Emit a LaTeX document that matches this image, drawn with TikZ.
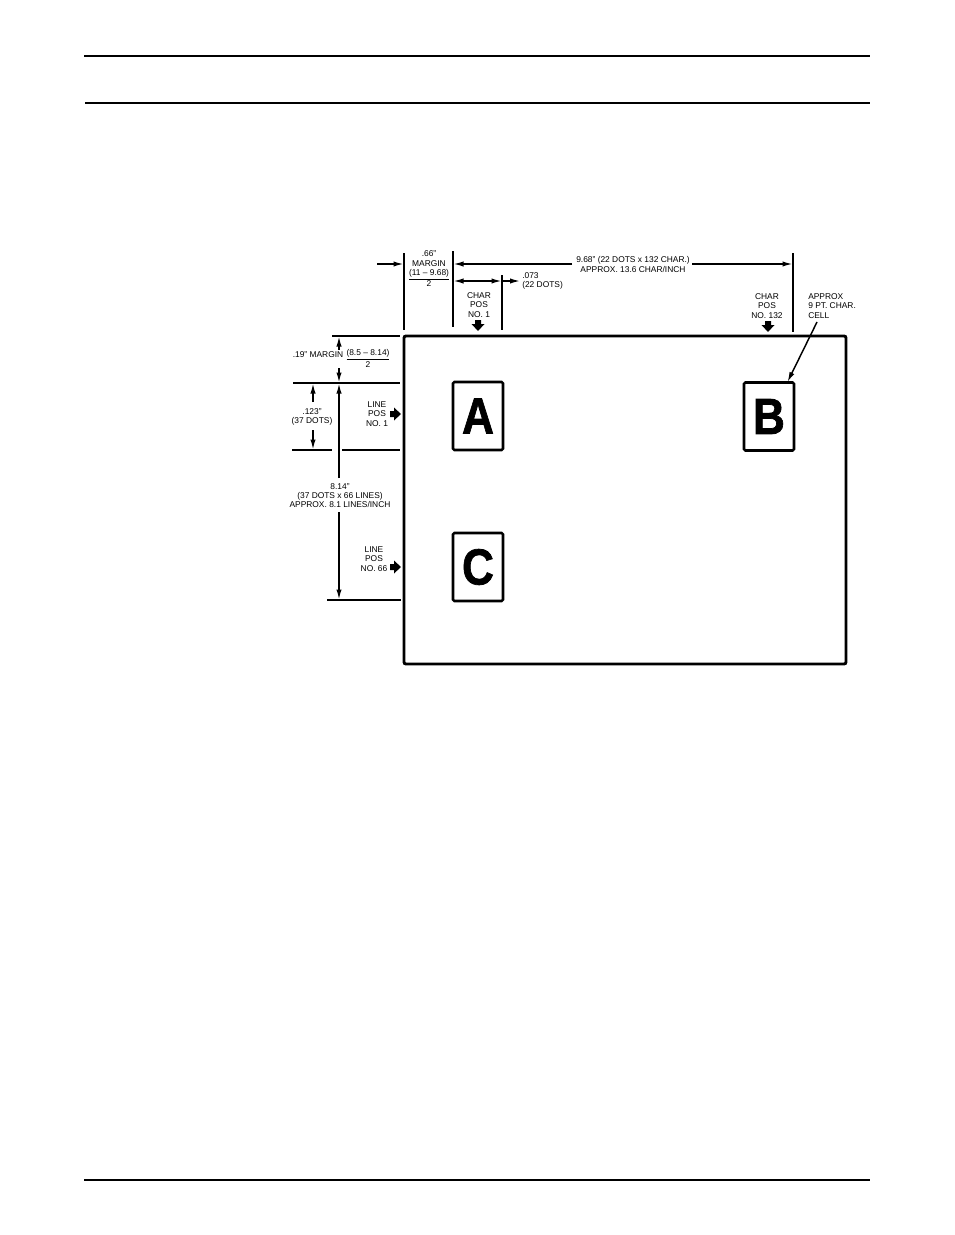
\documentclass[tikz,border=0pt]{standalone}
\usepackage{fontspec}
\setmainfont{Liberation Sans}
\newfontfamily\heavy[UprightFont={* Bold},FakeBold=1.5]{Liberation Sans}
\usetikzlibrary{arrows.meta}
\begin{document}
\begin{tikzpicture}[x=0.75pt,y=-0.75pt,
  rule/.style={line width=1.1pt},
  ext/.style={line width=1.5pt},
  dim/.style={line width=1.1pt,-{Latex[length=7.5pt,width=4pt]}},
  ddim/.style={line width=1.1pt,{Latex[length=7.5pt,width=4pt]}-{Latex[length=7.5pt,width=4pt]}},
  lbl/.style={font=\fontsize{6.3}{6.9}\selectfont,inner sep=0pt,align=center},
  lbll/.style={lbl,align=left,anchor=west},
  cell/.style={draw,line width=1.9pt,rounded corners=1pt,minimum width=50*0.75pt,minimum height=68*0.75pt,inner sep=0pt},
  big/.style={font=\fontsize{38}{38}\heavy\selectfont,xscale=0.87,inner sep=0pt},
  fat/.pic={\fill (-3,-6)--(3,-6)--(3,-2)--(6.5,-2)--(0,5)--(-6.5,-2)--(-3,-2)--cycle;}
]
\useasboundingbox (0,0) rectangle (954,1235);

% page rules
\coordinate (h1a) at (84,56);  \coordinate (h1b) at (870,56);
\coordinate (h2a) at (85,103); \coordinate (h2b) at (870,103);
\coordinate (f1a) at (84,1180); \coordinate (f1b) at (870,1180);
\draw[rule] (h1a) -- (h1b);
\draw[rule] (h2a) -- (h2b);
\draw[rule] (f1a) -- (f1b);

% page outline
\coordinate (pageTL) at (404,336);
\coordinate (pageBR) at (846,664);
\draw[line width=2.2pt,rounded corners=1.5pt] (pageTL) rectangle (pageBR);

% character cells
\node[cell] (cA) at (478,416) {};
\node[big] at (cA.center) {A};
\node[cell] (cB) at (769,416.5) {};
\node[big] at (cB.center) {B};
\node[cell] (cC) at (478,567) {};
\node[big] at (cC.center) {C};

% vertical extension lines (top)
\coordinate (v1t) at (404,253); \coordinate (v1b) at (404,330);
\coordinate (v2t) at (453,251); \coordinate (v2b) at (453,327);
\coordinate (v3t) at (502,275); \coordinate (v3b) at (502,330);
\coordinate (v4t) at (793,253); \coordinate (v4b) at (793,332);
\draw[ext] (v1t) -- (v1b);
\draw[ext] (v2t) -- (v2b);
\draw[ext] (v3t) -- (v3b);
\draw[ext] (v4t) -- (v4b);

% .66" margin
\coordinate (m1) at (377,264); \coordinate (m1e) at (403.5,264);
\draw[dim] (m1) -- (m1e);
\node[lbl] (mtxt) at (429,269) {.66"\\MARGIN\\\underline{(11 -- 9.68)}\\2};

% 9.68" width
\coordinate (w1) at (572,264); \coordinate (w1e) at (453.5,264);
\coordinate (w2) at (692,264); \coordinate (w2e) at (792.5,264);
\draw[dim] (w1) -- (w1e);
\draw[dim] (w2) -- (w2e);
\node[lbl] (wtxt) at (633,264.5) {9.68" (22 DOTS x 132 CHAR.)\\APPROX. 13.6 CHAR/INCH};

% .073 char width
\coordinate (c1) at (453.5,281); \coordinate (c2) at (501.5,281); \coordinate (c3) at (520,281);
\draw[ddim] (c1) -- (c2);
\draw[dim] (c2) -- (c3);
\node[lbll] (ctxt) at (522,281) {.073\\(22 DOTS)};

% char pos labels
\node[lbl] (cp1) at (479,305) {CHAR\\POS\\NO. 1};
\pic at (478,326) {fat};
\node[lbl] (cp132) at (767,306) {CHAR\\POS\\NO. 132};
\pic at (768,327) {fat};
\node[lbll] (cell) at (808,306) {APPROX\\9 PT. CHAR.\\CELL};
\coordinate (lead) at (817,322);
\coordinate (leadend) at (787.5,382);
\draw[dim] (lead) -- (leadend);

% left horizontal extension lines
\coordinate (l1a) at (332,336); \coordinate (l1b) at (400,336);
\coordinate (l2a) at (293,383); \coordinate (l2b) at (400,383);
\coordinate (l3a) at (292,450); \coordinate (l3b) at (332,450);
\coordinate (l3c) at (342,450); \coordinate (l3d) at (400,450);
\coordinate (l4a) at (327,600); \coordinate (l4b) at (401,600);
\draw[ext] (l1a) -- (l1b);
\draw[ext] (l2a) -- (l2b);
\draw[ext] (l3a) -- (l3b);
\draw[ext] (l3c) -- (l3d);
\draw[ext] (l4a) -- (l4b);

% .19" margin
\coordinate (t1) at (339,350); \coordinate (t1e) at (339,336.5);
\coordinate (t2) at (339,368); \coordinate (t2e) at (339,382.5);
\draw[dim] (t1) -- (t1e);
\draw[dim] (t2) -- (t2e);
\node[lbl] (ttxt) at (318,355) {.19" MARGIN};
\node[lbl] (tfrac) at (368,358.5) {\underline{(8.5 -- 8.14)}\\2};

% .123" line height
\coordinate (r1) at (313,402); \coordinate (r1e) at (313,383.5);
\coordinate (r2) at (313,430); \coordinate (r2e) at (313,449.5);
\draw[dim] (r1) -- (r1e);
\draw[dim] (r2) -- (r2e);
\node[lbl] (rtxt) at (312,417) {.123"\\(37 DOTS)};

% 8.14" page height
\coordinate (p1) at (339,478); \coordinate (p1e) at (339,383.5);
\coordinate (p2) at (339,512); \coordinate (p2e) at (339,599.5);
\draw[dim] (p1) -- (p1e);
\draw[dim] (p2) -- (p2e);
\node[lbl] (ptxt) at (340,495.5) {8.14"\\(37 DOTS x 66 LINES)\\APPROX. 8.1 LINES/INCH};

% line pos labels
\node[lbl] (lp1) at (377,414) {LINE\\POS\\NO. 1};
\pic[rotate=90] at (396,414) {fat};
\node[lbl] (lp66) at (374,559) {LINE\\POS\\NO. 66};
\pic[rotate=90] at (396,567) {fat};
\end{tikzpicture}
\end{document}
